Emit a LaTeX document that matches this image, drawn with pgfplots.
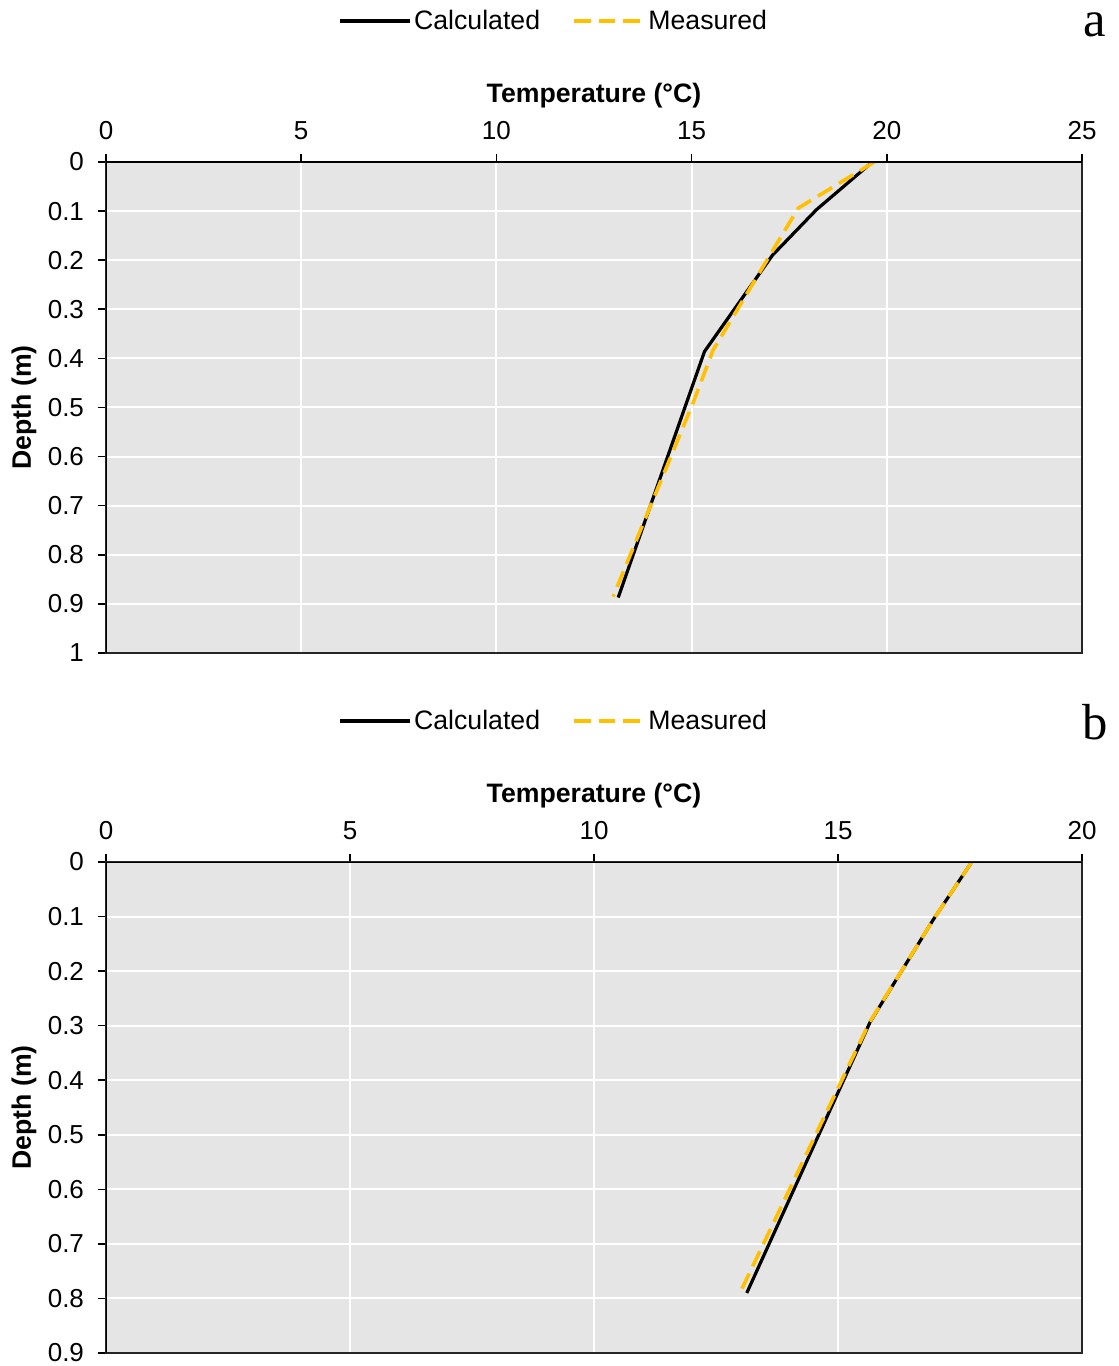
\documentclass[border=0pt]{standalone}
\usepackage{pgfplots}
\pgfplotsset{compat=1.18}
\usepackage{fontspec}
\setmainfont{Liberation Sans}
\newfontfamily\serifa{Liberation Serif}
\definecolor{bgc}{RGB}{229,229,229}
\definecolor{meas}{RGB}{255,192,0}
\pgfplotsset{
  myaxis/.style={
    scale only axis, width=732pt, height=368.25pt,
    y dir=reverse,
    xtick pos=right, xticklabel pos=right,
    ytick pos=left,
    tick align=outside, major tick length=6pt,
    tick style={black, line width=1.2pt},
    grid=major, major grid style={white, line width=1.5pt},
    axis background/.style={fill=bgc},
    axis line style={black!85, line width=0.9pt},
    /pgf/number format/assume math mode=true,
    tick label style={font=\fontsize{19.5}{22}\selectfont},
    xticklabel style={yshift=7pt},
    yticklabel style={xshift=-7pt},
    label style={font=\fontsize{20}{23}\selectfont\bfseries},
    xlabel={Temperature (°C)},
    xlabel style={at={(axis description cs:0.5,1)}, anchor=center, yshift=50pt},
    ylabel={Depth (m)},
    ylabel style={at={(axis description cs:0,0.5)}, anchor=center, yshift=61.5pt},
    legend style={at={(axis description cs:0.459,1.287)}, anchor=center, draw=none, fill=none,
      font=\fontsize{20}{23}\selectfont, legend columns=2,
      /tikz/every even column/.append style={column sep=22pt}},
    legend image code/.code={\draw[#1] (0pt,0pt) -- (52.5pt,0pt);},
    calc/.style={black, line width=2.4pt, line join=round},
    mea/.style={meas, line width=2.7pt, dash pattern=on 12.5pt off 6pt},
  }
}
\begin{document}
\begin{tikzpicture}
\path[use as bounding box] (0,0) rectangle (838.5pt,1024.5pt);
\begin{axis}[myaxis, at={(79.5pt,534.75pt)}, anchor=south west,
  xmin=0, xmax=25, ymin=0, ymax=1,
  xtick={0,5,10,15,20,25}, ytick={0,0.1,...,1.01}]
\addplot[calc] coordinates {(19.63,0) (18.2,0.097) (17.07,0.19) (15.33,0.386) (13.12,0.887)};
\addlegendentry{Calculated}
\addplot[mea] coordinates {(19.68,0) (17.73,0.094) (15.55,0.383) (15.04,0.49) (12.99,0.885)};
\addlegendentry{Measured}
\draw[black, line width=1.9pt] (axis cs:25,0) -- (axis cs:0,0) -- (axis cs:0,1);
\end{axis}
\begin{axis}[myaxis, at={(79.5pt,9.75pt)}, anchor=south west,
  xmin=0, xmax=20, ymin=0, ymax=0.9,
  xtick={0,5,10,15,20}, ytick={0,0.1,...,0.91}]
\addplot[calc] coordinates {(17.74,0) (16.95,0.106) (15.66,0.293) (13.13,0.79)};
\addlegendentry{Calculated}
\addplot[mea] coordinates {(17.74,0) (16.95,0.106) (15.64,0.295) (12.99,0.79)};
\addlegendentry{Measured}
\draw[black, line width=1.9pt] (axis cs:20,0) -- (axis cs:0,0) -- (axis cs:0,0.9);
\end{axis}
\node[anchor=base, font=\serifa\fontsize{38}{40}\selectfont] at (821pt,996.75pt) {a};
\node[anchor=base, font=\serifa\fontsize{38}{40}\selectfont] at (821pt,469.5pt) {b};
\end{tikzpicture}
\end{document}
